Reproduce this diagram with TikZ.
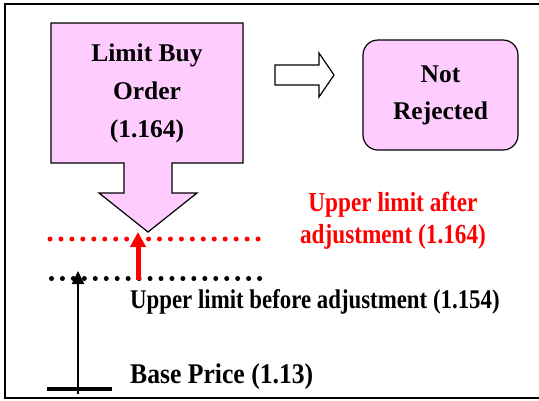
\documentclass[tikz,border=0pt]{standalone}
\usepackage{fontspec}
\usepackage{graphicx}
\setmainfont{Liberation Serif}
\usetikzlibrary{arrows.meta,positioning}
\definecolor{orderpink}{RGB}{255,204,255}
\definecolor{limitred}{RGB}{255,0,0}
\newcommand{\condensed}[2][0.85]{\scalebox{#1}[1]{#2}}
\begin{document}
\begin{tikzpicture}[x=1pt,y=-1pt,>=latex,line join=miter,
	lbl/.style={font=\bfseries\fontsize{25.5}{38}\selectfont,align=center,inner sep=0pt},
	dotmark/.style={radius=2.5pt}]
			\useasboundingbox (0,0) rectangle (539,400);
			\draw[line width=2pt] (545,4)--(5,4)--(5,398)--(545,398);
			\draw[fill=orderpink,line width=1.2pt] (51,23)--(243,23)--(243,163)--(172,163)--(172,193)--(197,193)--(148,232)--(99,193)--(124,193)--(124,163)--(51,163)--cycle;
			\node[lbl] (order) at (147,93) {Limit Buy\\Order\\(1.164)};
			\draw[fill=white,line width=1.2pt] (275,65)--(319,65)--(319,53)--(334,75)--(319,97)--(319,85)--(275,85)--cycle;
			\node[lbl,font=\bfseries\fontsize{25.5}{37}\selectfont,draw,fill=orderpink,line width=1.2pt,rounded corners=15pt,minimum width=155pt,minimum height=110pt] (result) at (440.5,95) {Not\\Rejected};
			\node[lbl,text=limitred,font=\bfseries\fontsize{27.5}{32}\selectfont] (after) at (393,221) {\condensed[0.845]{Upper limit after}\\\condensed[0.845]{adjustment (1.164)}};
			\node[lbl,anchor=west,font=\bfseries\fontsize{27}{30}\selectfont] (before) at (130,302) {\condensed[0.846]{Upper limit before adjustment (1.154)}};
			\node[lbl,anchor=west,font=\bfseries\fontsize{28.5}{30}\selectfont] (base) at (130,377) {\condensed[0.9]{Base Price (1.13)}};
			\foreach \i in {0,...,19} \fill[limitred] (50+\i*10.95,239) circle[dotmark];
			\foreach \i in {0,...,19} \fill (51.5+\i*10.95,278.5) circle[dotmark];
			\coordinate (basel) at (47,389); \coordinate (baser) at (112,389);
			\coordinate (redfoot) at (138,280); \coordinate (redtip) at (138,232);
			\coordinate (blackfoot) at (78,394); \coordinate (blacktip) at (78,271);
			\draw[line width=3.5pt] (basel)--(baser);
			\draw[-{Triangle[length=15pt,width=15pt]},line width=5pt,limitred] (redfoot)--(redtip);
			\draw[-{Triangle[length=13pt,width=12pt]},line width=2pt] (blackfoot)--(blacktip);
		\end{tikzpicture}
\end{document}
